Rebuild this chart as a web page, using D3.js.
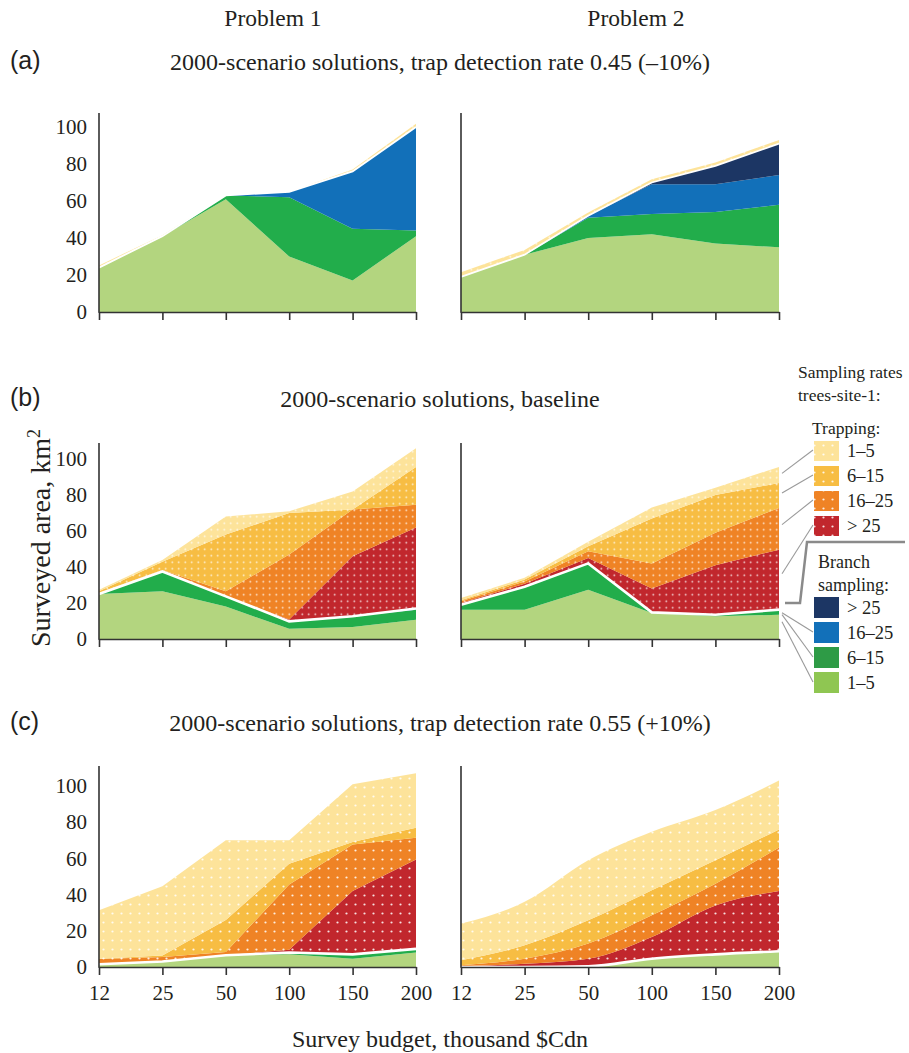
<!DOCTYPE html>
<html>
<head>
<meta charset="utf-8">
<script src="https://cdn.jsdelivr.net/npm/d3@7"></script>
<style>
body { margin: 0; background: #fff; }
text { font-family: "Liberation Serif", "Times New Roman", serif; fill: #231f20; }
</style>
</head>
<body>
<script>
const budgets = ["12", "25", "50", "100", "150", "200"];
// stack order, bottom to top: branch 1-5, 6-15, 16-25, >25, then trapping >25, 16-25, 6-15, 1-5
const layerKeys = ["b1", "b2", "b3", "b4", "t4", "t3", "t2", "t1"];

// layer thicknesses (km2) per budget, one row per layer
const a_problem1 = [
  [24, 41, 61, 30, 17, 41],
  [0, 0, 2, 32, 28, 3],
  [0, 0, 0, 3, 31, 56],
  [0, 0, 0, 0, 0, 0],
  [0, 0, 0, 0, 0, 0],
  [0, 0, 0, 0, 0, 0],
  [0, 0, 0, 0, 0, 0],
  [1.2, 0.5, 0, 0, 1, 1.8]
];
const a_problem2 = [
  [19, 31, 40, 42, 37, 35],
  [0, 0, 11, 11, 17, 23],
  [0, 0, 1, 16, 15, 16],
  [0, 0, 0, 1, 10, 17],
  [0, 0, 0, 0, 0, 0],
  [0, 0, 0, 0, 0, 0],
  [0, 0, 0, 0, 0, 0],
  [2.5, 2.5, 1.8, 1.8, 1.8, 2]
];
const b_problem1 = [
  [25, 26.5, 18, 5.7, 6.7, 10.7],
  [0, 11, 5.7, 4.1, 5.9, 5.6],
  [0, 0, 0, 0, 0, 0.6],
  [0, 0, 0, 0, 0, 0],
  [0, 0, 0, 1, 33.4, 45],
  [0.5, 0.9, 2.8, 36.2, 26, 12.7],
  [1, 4.5, 31.5, 23, 0, 21],
  [0.9, 1, 10, 1, 10, 10.4]
];
const b_problem2 = [
  [16.3, 16.3, 27.4, 14.4, 12.6, 13.5],
  [2.7, 12.7, 14.6, 0.4, 0.9, 2.8],
  [0, 0, 0, 0, 0, 0],
  [0, 0, 0, 0, 0, 0],
  [1, 1.7, 3, 13.2, 27.5, 33.3],
  [1, 1.3, 3.7, 14, 18, 23.2],
  [0.5, 1, 2.8, 25, 21, 13.9],
  [1.3, 1, 2.5, 6, 4, 8.9]
];
const c_problem1 = [
  [1.5, 3, 6.5, 7, 4.5, 8],
  [0, 0, 0, 1, 2.5, 2],
  [0, 0, 0, 0, 0, 0],
  [0, 0, 0, 0, 0, 0],
  [0, 0, 0, 1.5, 35, 49.4],
  [2.9, 2.5, 1.8, 36.1, 25.7, 12],
  [0.2, 0.8, 17.7, 11.4, 1.3, 5.6],
  [26.8, 38.3, 44, 13, 32, 30]
];
const c_problem2 = [
  [0, 0, 0.4, 4.6, 7, 8.7],
  [0, 0, 0, 0, 0, 0],
  [0, 0, 0, 0, 0, 0],
  [0, 0, 0, 0, 0, 0],
  [0.4, 1.8, 4.2, 12, 27, 33.3],
  [0.6, 2.8, 8.4, 12, 12, 24],
  [2.7, 7.4, 12.8, 13.8, 13, 10],
  [20.3, 24, 33.2, 32.3, 27.7, 27]
];

const yTicks = [0, 20, 40, 60, 80, 100];
const problemNames = ["Problem 1", "Problem 2"];
const rowLetters = ["(a)", "(b)", "(c)"];
const rowTitles = [
  "2000-scenario solutions, trap detection rate 0.45 (\u201310%)",
  "2000-scenario solutions, baseline",
  "2000-scenario solutions, trap detection rate 0.55 (+10%)"
];
const trapLabels = ["1\u20135", "6\u201315", "16\u201325", "> 25"];
const branchLabels = ["> 25", "16\u201325", "6\u201315", "1\u20135"];

const fills = {
  b1: "#b3d57f", b2: "#22ad4b", b3: "#1270b9", b4: "#1c3664",
  t4: "#c1272d", t3: "#ef8325", t2: "#f7bd43", t1: "#fde39a"
};
const legendTrapKeys = ["t1", "t2", "t3", "t4"];
const legendBranchColors = ["#1c3664", "#1270b9", "#2e9b46", "#8fc652"];

const width = 909, height = 1053;
const cols = [[99, 416], [461, 779]];
const rows = [
  { base: 312, y100: 127, top: 113, titleY: 70, dot: 6.5 },
  { base: 639, y100: 459, top: 443, titleY: 407, dot: 6.5 },
  { base: 967, y100: 786, top: 766, titleY: 731, dot: 9 }
];
const panels = [
  [a_problem1, a_problem2],
  [b_problem1, b_problem2],
  [c_problem1, c_problem2]
];

const svg = d3.select("body").append("svg")
  .attr("width", width)
  .attr("height", height);
const defs = svg.append("defs");

function dotPattern(id, color, step) {
  const p = defs.append("pattern")
    .attr("id", id)
    .attr("patternUnits", "userSpaceOnUse")
    .attr("width", step)
    .attr("height", step);
  p.append("rect").attr("width", step).attr("height", step).attr("fill", color);
  p.append("circle")
    .attr("cx", step / 2).attr("cy", step / 2).attr("r", step > 7 ? 1.1 : 0.85)
    .attr("fill", "#fff").attr("opacity", 0.85);
}
[6.5, 9].forEach(step => {
  ["t1", "t2", "t3", "t4"].forEach(k => dotPattern(`dots-${k}-${step * 10}`, fills[k], step));
});

const fillFor = (key, step) => key[0] === "t" ? `url(#dots-${key}-${step * 10})` : fills[key];

// keep the b2 panel scales for the legend connectors
let baselineRight = null;

panels.forEach((pair, ri) => {
  const row = rows[ri];
  pair.forEach((vals, ci) => {
    const col = cols[ci];
    const x = d3.scalePoint().domain(budgets).range(col);
    const y = d3.scaleLinear().domain([0, 100]).range([row.base, row.y100]);

    const table = budgets.map((b, i) => {
      const o = { budget: b };
      layerKeys.forEach((k, j) => o[k] = vals[j][i]);
      return o;
    });
    const series = d3.stack().keys(layerKeys)(table);

    const curve = (ri === 2 && ci === 1) ? d3.curveMonotoneX : d3.curveLinear;
    const area = d3.area()
      .x(d => x(d.data.budget))
      .y0(d => y(d[0]))
      .y1(d => y(d[1]))
      .curve(curve);

    const g = svg.append("g");
    g.selectAll("path.layer")
      .data(series)
      .join("path")
      .attr("class", "layer")
      .attr("d", area)
      .attr("fill", d => fillFor(d.key, row.dot));

    // white separator between branch sampling and trapping
    const sep = d3.line()
      .x(d => x(d.data.budget))
      .y(d => y(d[1]))
      .curve(curve);
    g.append("path")
      .attr("d", sep(series[3]))
      .attr("fill", "none")
      .attr("stroke", "#fff")
      .attr("stroke-width", ri === 0 ? 1.8 : 2.6);

    // axes
    const xAxis = d3.axisBottom(x)
      .tickSize(8)
      .tickSizeOuter(0)
      .tickPadding(10)
      .tickFormat(ri === 2 ? (d => d) : (() => ""));
    g.append("g")
      .attr("transform", `translate(0,${row.base})`)
      .call(xAxis)
      .attr("font-family", "Liberation Serif, serif")
      .attr("font-size", 21)
      .call(s => s.selectAll("line, path").attr("stroke", "#333").attr("stroke-width", 1.6))
      .call(s => s.selectAll("text").attr("fill", "#231f20"));

    g.append("line")
      .attr("x1", col[0]).attr("x2", col[0])
      .attr("y1", row.base + 0.8).attr("y2", row.top)
      .attr("stroke", "#333")
      .attr("stroke-width", 1.6);

    if (ci === 0) {
      g.append("g")
        .attr("transform", `translate(${col[0]},0)`)
        .call(d3.axisLeft(y).tickValues(yTicks).tickSize(0).tickPadding(12))
        .attr("font-family", "Liberation Serif, serif")
        .attr("font-size", 21)
        .call(s => s.select(".domain").remove())
        .call(s => s.selectAll("text").attr("fill", "#231f20"));
    }

    if (ri === 1 && ci === 1) baselineRight = { x, y, series };
  });

  svg.append("text")
    .attr("x", 10).attr("y", row.titleY - 1)
    .style("font-family", "Liberation Sans, Arial, sans-serif")
    .attr("font-size", 25)
    .text(rowLetters[ri]);

  svg.append("text")
    .attr("x", 440).attr("y", row.titleY)
    .attr("text-anchor", "middle")
    .attr("font-size", 24)
    .text(rowTitles[ri]);
});

// column headers
svg.selectAll("text.problem")
  .data(problemNames)
  .join("text")
  .attr("class", "problem")
  .attr("x", (d, i) => [273, 636][i])
  .attr("y", 26)
  .attr("text-anchor", "middle")
  .attr("font-size", 23.5)
  .text(d => d);

// axis titles
const yLab = svg.append("text")
  .attr("transform", "translate(50,538) rotate(-90)")
  .attr("text-anchor", "middle")
  .attr("font-size", 28);
yLab.append("tspan").text("Surveyed area, km");
yLab.append("tspan").attr("dy", -10).attr("font-size", 18).text("2");

svg.append("text")
  .attr("x", 440).attr("y", 1047)
  .attr("text-anchor", "middle")
  .attr("font-size", 24)
  .text("Survey budget, thousand $Cdn");

// legend
const legend = svg.append("g");
legend.append("text").attr("x", 798).attr("y", 378).attr("font-size", 17.5).text("Sampling rates");
legend.append("text").attr("x", 798).attr("y", 401).attr("font-size", 17.5).text("trees-site-1:");
legend.append("text").attr("x", 812).attr("y", 434).attr("font-size", 17.5).text("Trapping:");
legend.append("text").attr("x", 818).attr("y", 568).attr("font-size", 18).text("Branch");
legend.append("text").attr("x", 818).attr("y", 591).attr("font-size", 18).text("sampling:");

const boxX = 814, boxW = 25;
const trapY = i => 441 + i * 25;
const branchY = i => 597 + i * 25;

const conn = legend.append("g").attr("stroke", "#9a9a9a").attr("stroke-width", 1.1);
const last = budgets.length - 1;
const rx = baselineRight.x(budgets[last]) + 3;

// trapping connectors to the baseline Problem 2 bands at 200
legendTrapKeys.forEach((k, i) => {
  const s = baselineRight.series.find(d => d.key === k)[last];
  const v = s[0] + (s[1] - s[0]) * 0.6;
  conn.append("line")
    .attr("x1", boxX - 1).attr("y1", trapY(i) + 9)
    .attr("x2", rx).attr("y2", baselineRight.y(v));
});
["b3", "b2", "b1"].forEach((k, i) => {
  const s = baselineRight.series.find(d => d.key === k)[last];
  conn.append("line")
    .attr("x1", boxX - 1).attr("y1", branchY(i + 1) + 10)
    .attr("x2", rx).attr("y2", baselineRight.y(s[1]) + 3 + i * 2);
});

legend.append("polyline")
  .attr("points", "785,603 800,603 807,542 905,542")
  .attr("fill", "none")
  .attr("stroke", "#8a8a8a")
  .attr("stroke-width", 2.5);

legend.selectAll("rect.trap")
  .data(legendTrapKeys)
  .join("rect")
  .attr("class", "trap")
  .attr("x", boxX).attr("y", (d, i) => trapY(i))
  .attr("width", boxW).attr("height", 20)
  .attr("fill", d => `url(#dots-${d}-90)`);
legend.selectAll("text.trap")
  .data(trapLabels)
  .join("text")
  .attr("class", "trap")
  .attr("x", 847).attr("y", (d, i) => trapY(i) + 16)
  .attr("font-size", 18.5)
  .text(d => d);

legend.selectAll("rect.branch")
  .data(legendBranchColors)
  .join("rect")
  .attr("class", "branch")
  .attr("x", boxX).attr("y", (d, i) => branchY(i))
  .attr("width", boxW).attr("height", 21)
  .attr("fill", d => d);
legend.selectAll("text.branch")
  .data(branchLabels)
  .join("text")
  .attr("class", "branch")
  .attr("x", 847).attr("y", (d, i) => branchY(i) + 17)
  .attr("font-size", 18.5)
  .text(d => d);
</script>
</body>
</html>
